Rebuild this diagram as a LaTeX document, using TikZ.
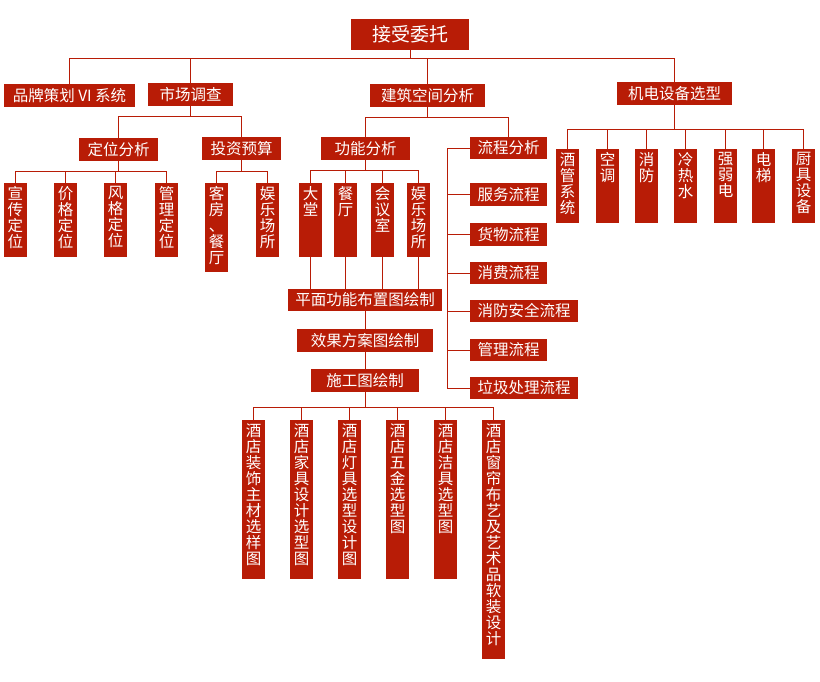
\documentclass[tikz,border=0pt]{standalone}
\usepackage{fontspec}
\newfontfamily\cjk{Noto Sans CJK SC}
\usetikzlibrary{calc}
\usetikzlibrary{positioning}
\definecolor{boxred}{RGB}{184,28,6}
% vertical box text, one character per line
\newcommand{\vtxt}[2]{\parbox[t][#1pt][t]{23pt}{\centering\fontsize{15.5}{16}\selectfont\vspace*{3.5pt}#2}}

\begin{document}
\begin{tikzpicture}[x=1pt,y=-1pt,line cap=rect,
  hbox/.style={fill=boxred,text=white,inner sep=0pt,minimum height=23pt,font=\cjk\fontsize{15.5}{16}\selectfont},
  vbox/.style={fill=boxred,text=white,inner sep=0pt,anchor=north,minimum width=23pt,font=\cjk},
  link/.style={draw=boxred,line width=1pt}]
% Draw region settings
\useasboundingbox (0,0) rectangle (820,681);
% Top
\node[hbox,minimum width=118pt,minimum height=31pt,font=\cjk\fontsize{19}{20}\selectfont] (entrust) at (410,34.5) {接受委托};
% Level 1
\node[hbox,minimum width=131pt] (brand) at (69.5,95.5) {品牌策划 VI 系统};
\node[hbox,minimum width=85pt] (market) at (190.5,94.5) {市场调查};
\node[hbox,minimum width=115pt] (arch) at (427.5,95.5) {建筑空间分析};
\node[hbox,minimum width=115pt] (mech) at (674.5,93.5) {机电设备选型};
\coordinate (bus0) at (410,58);
\draw[link] (entrust.south) -- (bus0);
\draw[link] (bus0 -| brand.north) -- (bus0 -| mech.north);
\foreach \n in {brand,market,arch,mech}
  \draw[link] (bus0 -| \n.north) -- (\n.north);
% Market research
\node[hbox,minimum width=79pt] (position) at (118.5,149.5) {定位分析};
\node[hbox,minimum width=79pt] (budget) at (241.5,148.5) {投资预算};
\coordinate (bus1) at (190,116);
\draw[link] (market.south) -- (market.south |- bus1);
\draw[link] (bus1 -| position.north) -- (bus1 -| budget.north);
\foreach \n in {position,budget}
  \draw[link] (bus1 -| \n.north) -- (\n.north);
\node[vbox] (pa) at (15.5,183) {\vtxt{74}{宣\\传\\定\\位}};
\node[vbox] (pb) at (65.5,183) {\vtxt{74}{价\\格\\定\\位}};
\node[vbox] (pc) at (115.5,183) {\vtxt{74}{风\\格\\定\\位}};
\node[vbox] (pd) at (166.5,183) {\vtxt{74}{管\\理\\定\\位}};
\node[vbox] (ba) at (216.5,183) {\vtxt{89}{客\\房\\、\\餐\\厅}};
\node[vbox] (bb) at (267.5,183) {\vtxt{74}{娱\\乐\\场\\所}};
\coordinate (bus2) at (0,171);
\draw[link] (position.south) -- (position.south |- bus2);
\draw[link] (bus2 -| pa.north) -- (bus2 -| pd.north);
\foreach \n in {pa,pb,pc,pd}
  \draw[link] (bus2 -| \n.north) -- (\n.north);
\draw[link] (budget.south) -- (budget.south |- bus2);
\draw[link] (bus2 -| ba.north) -- (bus2 -| bb.north);
\foreach \n in {ba,bb}
  \draw[link] (bus2 -| \n.north) -- (\n.north);
% Architecture space
\node[hbox,minimum width=89pt] (func) at (365.5,148.5) {功能分析};
\node[hbox,minimum width=77pt,minimum height=22pt] (flow) at (508.5,148) {流程分析};
\coordinate (bus3) at (427,117);
\draw[link] (arch.south) -- (arch.south |- bus3);
\draw[link] (bus3 -| func.north) -- (bus3 -| flow.north);
\foreach \n in {func,flow}
  \draw[link] (bus3 -| \n.north) -- (\n.north);
\node[vbox] (fa) at (310.5,183) {\vtxt{74}{大\\堂}};
\node[vbox] (fb) at (345.5,183) {\vtxt{74}{餐\\厅}};
\node[vbox] (fc) at (382.5,183) {\vtxt{74}{会\\议\\室}};
\node[vbox] (fd) at (418.5,183) {\vtxt{74}{娱\\乐\\场\\所}};
\coordinate (bus4) at (0,170);
\draw[link] (func.south) -- (func.south |- bus4);
\draw[link] (bus4 -| fa.north) -- (bus4 -| fd.north);
\foreach \n in {fa,fb,fc,fd}
  \draw[link] (bus4 -| \n.north) -- (\n.north);
% drawings
\node[hbox,minimum width=154pt,minimum height=22pt] (plan) at (365,300) {平面功能布置图绘制};
\node[hbox,minimum width=136pt] (effect) at (365,340.5) {效果方案图绘制};
\node[hbox,minimum width=108pt] (build) at (365,380.5) {施工图绘制};
\foreach \n in {fa,fb,fc,fd}
  \draw[link] (\n.south) -- (\n.south |- plan.north);
\draw[link] (plan.south) -- (effect.north);
\draw[link] (effect.south) -- (build.north);
\node[vbox] (da) at (253.5,420) {\vtxt{159}{酒\\店\\装\\饰\\主\\材\\选\\样\\图}};
\node[vbox] (db) at (301.5,420) {\vtxt{159}{酒\\店\\家\\具\\设\\计\\选\\型\\图}};
\node[vbox] (dc) at (349.5,420) {\vtxt{159}{酒\\店\\灯\\具\\选\\型\\设\\计\\图}};
\node[vbox] (dd) at (397.5,420) {\vtxt{159}{酒\\店\\五\\金\\选\\型\\图}};
\node[vbox] (de) at (445.5,420) {\vtxt{159}{酒\\店\\洁\\具\\选\\型\\图}};
\node[vbox] (df) at (493.5,420) {\vtxt{239}{酒\\店\\窗\\帘\\布\\艺\\及\\艺\\术\\品\\软\\装\\设\\计}};
\coordinate (bus5) at (0,407);
\draw[link] (build.south) -- (build.south |- bus5);
\draw[link] (bus5 -| da.north) -- (bus5 -| df.north);
\foreach \n in {da,db,dc,dd,de,df}
  \draw[link] (bus5 -| \n.north) -- (\n.north);
% Flow list
\node[hbox,anchor=west,minimum width=77pt] (service) at (470,194.5) {服务流程};
\node[hbox,anchor=west,minimum width=77pt] (goods) at (470,234.5) {货物流程};
\node[hbox,anchor=west,minimum width=77pt,minimum height=22pt] (consume) at (470,273) {消费流程};
\node[hbox,anchor=west,minimum width=108pt,minimum height=22pt] (fire) at (470,311) {消防安全流程};
\node[hbox,anchor=west,minimum width=77pt,minimum height=22pt] (manage) at (470,350) {管理流程};
\node[hbox,anchor=west,minimum width=108pt,minimum height=22pt] (waste) at (470,388) {垃圾处理流程};
\coordinate (bus6) at (447,0);
\draw[link] (bus6 |- flow.west) -- (bus6 |- waste.west);
\foreach \n in {flow,service,goods,consume,fire,manage,waste}
  \draw[link] (bus6 |- \n.west) -- (\n.west);
% Mechanical and electrical
\node[vbox] (ma) at (567.5,149) {\vtxt{74}{酒\\管\\系\\统}};
\node[vbox] (mb) at (607.5,149) {\vtxt{74}{空\\调}};
\node[vbox] (mc) at (646.5,149) {\vtxt{74}{消\\防}};
\node[vbox] (md) at (685.5,149) {\vtxt{74}{冷\\热\\水}};
\node[vbox] (me) at (725.5,149) {\vtxt{74}{强\\弱\\电}};
\node[vbox] (mf) at (763.5,149) {\vtxt{74}{电\\梯}};
\node[vbox] (mg) at (803.5,149) {\vtxt{74}{厨\\具\\设\\备}};
\coordinate (bus7) at (0,129);
\draw[link] (mech.south) -- (mech.south |- bus7);
\draw[link] (bus7 -| ma.north) -- (bus7 -| mg.north);
\foreach \n in {ma,mb,mc,md,me,mf,mg}
  \draw[link] (bus7 -| \n.north) -- (\n.north);
\end{tikzpicture}
\end{document}
